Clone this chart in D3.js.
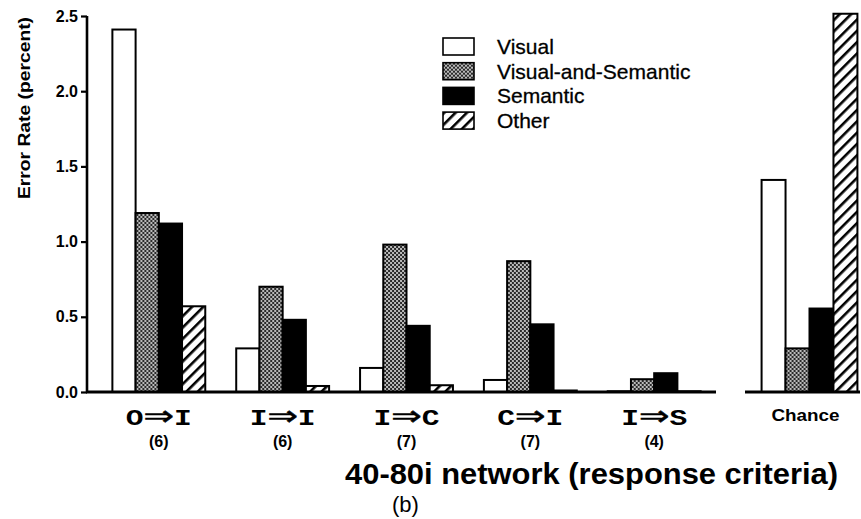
<!DOCTYPE html>
<html>
<head>
<meta charset="utf-8">
<script src="https://cdn.jsdelivr.net/npm/d3@7"></script>
<style>
  html, body { margin: 0; padding: 0; background: #fff; }
  svg { display: block; }
  text { font-family: "Liberation Sans", Arial, Helvetica, sans-serif; fill: #000; }
</style>
</head>
<body>
<svg id="chart" width="861" height="519"></svg>
<script>
// Error rates (percent) of the 40-80i network under each response criterion
const categories = ["O\u21D2I", "I\u21D2I", "I\u21D2C", "C\u21D2I", "I\u21D2S"];
const counts = ["(6)", "(6)", "(7)", "(7)", "(4)"];
const seriesNames = ["Visual", "Visual-and-Semantic", "Semantic", "Other"];
const visual = [2.41, 0.29, 0.16, 0.08, 0.005];
const visualSemantic = [1.19, 0.70, 0.98, 0.87, 0.085];
const semantic = [1.12, 0.48, 0.44, 0.45, 0.125];
const other = [0.57, 0.04, 0.045, 0.01, 0.005];
const chanceLabel = "Chance";
const chance = [1.41, 0.29, 0.555, 2.515];
const yTicks = [0, 0.5, 1.0, 1.5, 2.0, 2.5];

const seriesValues = [visual, visualSemantic, semantic, other];

const svg = d3.select("#chart");

// Fill patterns for the four error types
const defs = svg.append("defs");
const dots = defs.append("pattern")
  .attr("id", "pat-vs").attr("patternUnits", "userSpaceOnUse")
  .attr("width", 4).attr("height", 4);
dots.append("rect").attr("width", 4).attr("height", 4).attr("fill", "#2a2a2a");
dots.append("circle").attr("cx", 1).attr("cy", 1).attr("r", 0.9).attr("fill", "#fff");
dots.append("circle").attr("cx", 3).attr("cy", 3).attr("r", 0.9).attr("fill", "#fff");

const hatch = defs.append("pattern")
  .attr("id", "pat-other").attr("patternUnits", "userSpaceOnUse")
  .attr("width", 8).attr("height", 8)
  .attr("patternTransform", "rotate(45)");
hatch.append("rect").attr("width", 8).attr("height", 8).attr("fill", "#fff");
hatch.append("rect").attr("x", 0).attr("y", 0).attr("width", 2.6).attr("height", 8).attr("fill", "#000");

const fills = ["#fff", "url(#pat-vs)", "#000", "url(#pat-other)"];

// Scales
const y = d3.scaleLinear().domain([0, 2.5]).range([392, 16]);

const x = d3.scaleBand().domain(categories)
  .range([100, 713]).paddingInner(0.25).paddingOuter(0.1);
const xSub = d3.scaleBand().domain(seriesNames).range([0, x.bandwidth()]).padding(0);

const xChance = d3.scaleBand().domain([chanceLabel])
  .range([752, 867]).paddingOuter(0.1).paddingInner(0);
const xChanceSub = d3.scaleBand().domain(seriesNames).range([0, xChance.bandwidth()]).padding(0);

// Y axis
const yAxis = d3.axisLeft(y).tickValues(yTicks).tickFormat(d3.format(".1f"))
  .tickSize(6).tickPadding(3);
const gy = svg.append("g").attr("transform", "translate(87,0)").call(yAxis);
gy.select(".domain").attr("stroke", "#000").attr("stroke-width", 2.6)
  .attr("d", `M0,${y(2.5)}V${y(0)}`);
gy.selectAll(".tick line").attr("stroke", "#000").attr("stroke-width", 2.2);
gy.selectAll(".tick text")
  .style("font-family", "'Liberation Sans', Arial, sans-serif")
  .style("font-weight", "bold").style("font-size", "16px").attr("fill", "#000");

svg.append("text")
  .attr("transform", `translate(30,${(y(2.5) + 200) / 2}) rotate(-90)`)
  .attr("text-anchor", "middle")
  .attr("font-weight", "bold").attr("font-size", "16px")
  .attr("textLength", 182).attr("lengthAdjust", "spacingAndGlyphs")
  .text("Error Rate (percent)");

// Main grouped bars
const rows = categories.map((c, i) => ({
  cat: c,
  vals: seriesNames.map((s, j) => ({ key: s, idx: j, value: seriesValues[j][i] }))
}));

const groups = svg.append("g").selectAll("g").data(rows).join("g")
  .attr("transform", d => `translate(${x(d.cat)},0)`);
groups.selectAll("rect").data(d => d.vals).join("rect")
  .attr("x", d => xSub(d.key))
  .attr("y", d => y(d.value))
  .attr("width", xSub.bandwidth())
  .attr("height", d => y(0) - y(d.value))
  .attr("fill", d => fills[d.idx])
  .attr("stroke", "#000").attr("stroke-width", 2);

// Chance bars
const chanceG = svg.append("g").attr("transform", `translate(${xChance(chanceLabel)},0)`);
chanceG.selectAll("rect")
  .data(seriesNames.map((s, j) => ({ key: s, idx: j, value: chance[j] })))
  .join("rect")
  .attr("x", d => xChanceSub(d.key))
  .attr("y", d => y(d.value))
  .attr("width", xChanceSub.bandwidth())
  .attr("height", d => y(0) - y(d.value))
  .attr("fill", d => fills[d.idx])
  .attr("stroke", "#000").attr("stroke-width", 2);

// Baselines
svg.append("line").attr("x1", 86).attr("x2", 716).attr("y1", y(0)).attr("y2", y(0))
  .attr("stroke", "#000").attr("stroke-width", 2.8);
svg.append("line").attr("x1", 745).attr("x2", 860).attr("y1", y(0)).attr("y2", y(0))
  .attr("stroke", "#000").attr("stroke-width", 2.8);

// Category labels: typewriter letters around a double arrow
const catText = svg.append("g").selectAll("text").data(categories).join("text")
  .attr("x", d => x(d) + x.bandwidth() / 2)
  .attr("y", 425)
  .attr("text-anchor", "middle")
  .attr("textLength", 66).attr("lengthAdjust", "spacingAndGlyphs");
catText.append("tspan")
  .style("font-family", "'Liberation Mono', 'Courier New', monospace")
  .attr("font-weight", "bold").attr("font-size", "22px")
  .text(d => d[0]);
catText.append("tspan")
  .style("font-family", "'DejaVu Sans', sans-serif")
  .attr("font-size", "27px").attr("stroke", "#000").attr("stroke-width", 0.6)
  .text(d => d[1]);
catText.append("tspan")
  .style("font-family", "'Liberation Mono', 'Courier New', monospace")
  .attr("font-weight", "bold").attr("font-size", "22px")
  .text(d => d[2]);

svg.append("g").selectAll("text").data(counts).join("text")
  .attr("x", (d, i) => x(categories[i]) + x.bandwidth() / 2)
  .attr("y", 447)
  .attr("text-anchor", "middle")
  .attr("font-weight", "bold").attr("font-size", "16px")
  .text(d => d);

svg.append("text")
  .attr("x", xChance(chanceLabel) + xChance.bandwidth() / 2 - 4)
  .attr("y", 421)
  .attr("text-anchor", "middle")
  .attr("font-weight", "bold").attr("font-size", "16px")
  .attr("textLength", 68).attr("lengthAdjust", "spacingAndGlyphs")
  .text(chanceLabel);

// Legend
const legend = svg.append("g").attr("transform", "translate(443,38)");
const li = legend.selectAll("g").data(seriesNames).join("g")
  .attr("transform", (d, i) => `translate(0,${i * 24.7})`);
li.append("rect").attr("width", 31).attr("height", 17)
  .attr("fill", (d, i) => fills[i]).attr("stroke", "#000").attr("stroke-width", 1.6);
li.append("text").attr("x", 54).attr("y", 16)
  .attr("font-size", "21px").attr("stroke", "#000").attr("stroke-width", 0.3)
  .text(d => d);

// Titles
svg.append("text").attr("x", 345).attr("y", 484)
  .attr("font-weight", "bold").attr("font-size", "30px")
  .attr("textLength", 493).attr("lengthAdjust", "spacingAndGlyphs")
  .text("40-80i network (response criteria)");
svg.append("text").attr("x", 392).attr("y", 512)
  .attr("font-size", "22px")
  .text("(b)");
</script>
</body>
</html>
